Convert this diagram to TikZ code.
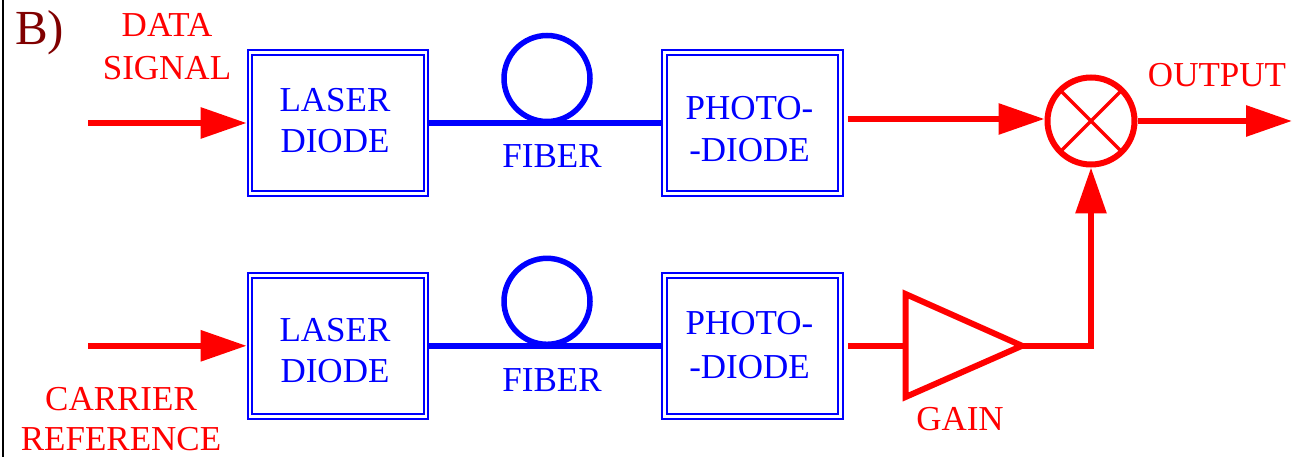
\documentclass[tikz,border=0pt]{standalone}
\usepackage{fontspec}
\setmainfont{Liberation Serif}
\usetikzlibrary{arrows.meta,calc}
\definecolor{sigred}{RGB}{255,0,0}
\definecolor{optblue}{RGB}{0,0,255}
\definecolor{labelmaroon}{RGB}{128,0,0}
\begin{document}
\begin{tikzpicture}[x=1pt,y=-1pt,
  box/.style={draw=optblue, double=white, line width=2.1pt, double distance=2.5pt,
    minimum width=176pt, minimum height=141pt, inner sep=0pt, outer sep=3.35pt},
  txt/.style={font=\fontsize{35}{42}\selectfont, inner sep=0pt, align=center},
  bluetxt/.style={txt, text=optblue},
  redtxt/.style={txt, text=sigred},
  fiber/.style={draw=optblue, line width=6pt},
  fiberloop/.style={circle, draw=optblue, line width=5.5pt, minimum size=86pt, inner sep=0pt},
  sig/.style={draw=sigred, line width=6pt, line join=miter},
  sigarrow/.style={sig, -{Triangle[length=46pt,width=30pt]}},
]
\useasboundingbox (0,0) rectangle (1306,457);

% left frame line
\draw[line width=2.2pt] (2.8,0) -- (2.8,457);

% boxes
\node[box] (ld1) at (338,123) {};
\node[box] (pd1) at (752.5,123) {};
\node[box] (ld2) at (338,345.8) {};
\node[box] (pd2) at (752.5,345.8) {};

% box texts
\node[bluetxt, font=\fontsize{35}{41}\selectfont] (ld1t) at (335,120.5) {LASER\\DIODE};
\node[bluetxt, font=\fontsize{35}{41}\selectfont] (ld2t) at (335,350.5) {LASER\\DIODE};
\node[bluetxt, font=\fontsize{35}{42}\selectfont] (pd1t) at (749.5,129.5) {PHOTO-\\-DIODE};
\node[bluetxt, font=\fontsize{35}{44}\selectfont] (pd2t) at (749.5,345.5) {PHOTO-\\-DIODE};

% fiber loops
\node[fiberloop] (loop1) at (547,78.5) {};
\node[fiberloop] (loop2) at (547,301.3) {};
\draw[fiber] (ld1.east) -- (pd1.west);
\draw[fiber] (ld2.east) -- (pd2.west);
\node[bluetxt, anchor=base] (fib1) at (552,168) {FIBER};
\node[bluetxt, anchor=base] (fib2) at (552,391) {FIBER};

% mixer
\node[circle, draw=sigred, line width=6pt, minimum size=87pt, inner sep=0pt, outer sep=3pt] (mix) at (1091,121) {};
\draw[sigred, line width=3.5pt] ($(mix.center)+(45:41)$) -- ($(mix.center)+(225:41)$);
\draw[sigred, line width=3.5pt] ($(mix.center)+(135:41)$) -- ($(mix.center)+(315:41)$);

% inputs
\coordinate (din) at (88,123);
\coordinate (cin) at (88,345.8);
\draw[sigarrow] (din) -- (ld1.west);
\draw[sigarrow] (cin) -- (ld2.west);

% upper branch to mixer
\coordinate (pd1out) at ($(pd1.east)+(4,-4)$);
\draw[sigarrow] (pd1out) -- (pd1out -| mix.west);

% output
\coordinate (outend) at (1292,121);
\draw[sigarrow] (mix.east) -- (outend);

% lower branch with gain
\coordinate (pd2out) at ($(pd2.east)+(4,0)$);
\coordinate (ampin) at (905.5,345.8);
\coordinate (amptop) at (905.5,294);
\coordinate (ampbot) at (905.5,397);
\coordinate (ampout) at (1022,345.8);
\draw[sig] (pd2out) -- (ampin);
\draw[sig] (amptop) -- (ampout) -- (ampbot) -- cycle;
\draw[sigarrow] (ampout) -| (mix.south);

% labels
\node[txt, text=labelmaroon, font=\fontsize{49}{56}\selectfont, anchor=base west] (lbl) at (15,45) {B)};
\node[redtxt, font=\fontsize{35}{43}\selectfont] (datat) at (167,46.5) {DATA\\SIGNAL};
\node[redtxt, font=\fontsize{35}{40}\selectfont] (cart) at (121,419.5) {CARRIER\\REFERENCE};
\node[redtxt, anchor=base] (outt) at (1217,87) {OUTPUT};
\node[redtxt, anchor=base] (gaint) at (960,430) {GAIN};
\end{tikzpicture}
\end{document}
